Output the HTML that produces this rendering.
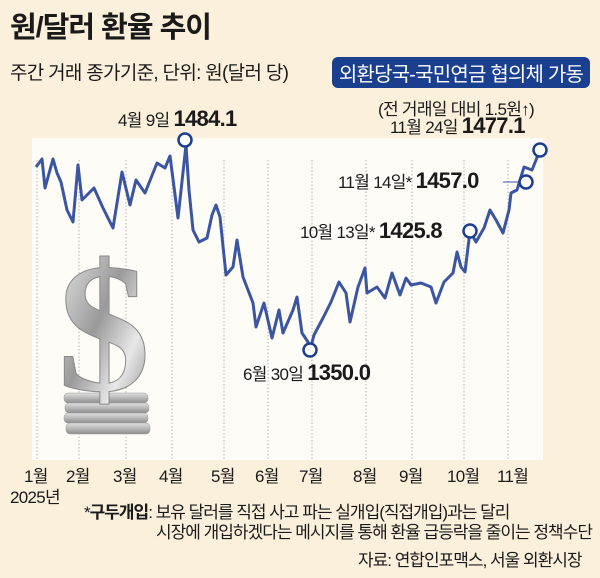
<!DOCTYPE html>
<html><head><meta charset="utf-8"><style>
body{margin:0;width:600px;height:578px;background:#fbf0dc;font-family:"Liberation Sans","Noto Sans CJK KR",sans-serif;position:relative;overflow:hidden;color:#1a1a1a}
.a{position:absolute;white-space:nowrap}
</style></head><body>
<svg class="a" style="left:0;top:0" width="600" height="578">
<defs>
<linearGradient id="g" x1="0" y1="0" x2="1" y2="1"><stop offset="0" stop-color="#f4f4f4"/><stop offset=".45" stop-color="#9a9a9a"/><stop offset=".7" stop-color="#e8e8e8"/><stop offset="1" stop-color="#7a7a7a"/></linearGradient>
<linearGradient id="c" x1="0" y1="0" x2="0" y2="1"><stop offset="0" stop-color="#e0e0e0"/><stop offset="1" stop-color="#8e8e8e"/></linearGradient>
</defs>
<rect x="32" y="138" width="511" height="322" fill="#fefcf7"/>
<g stroke="#b5b5b5" stroke-dasharray="1.5,2" stroke-width="1">
<line x1="37" y1="160" x2="37" y2="460"/><line x1="79" y1="160" x2="79" y2="460"/><line x1="126" y1="160" x2="126" y2="460"/><line x1="172" y1="160" x2="172" y2="460"/><line x1="224" y1="160" x2="224" y2="460"/><line x1="268" y1="160" x2="268" y2="460"/><line x1="312" y1="160" x2="312" y2="460"/><line x1="366" y1="160" x2="366" y2="460"/><line x1="412" y1="160" x2="412" y2="460"/><line x1="464" y1="160" x2="464" y2="460"/><line x1="508" y1="160" x2="508" y2="460"/>
</g>
<g fill="url(#c)" stroke="#999" stroke-width=".5">
<rect x="64" y="393" width="84" height="10" rx="4"/><rect x="65" y="403" width="84" height="10" rx="4"/><rect x="64" y="413" width="84" height="10" rx="4"/><rect x="66" y="423" width="84" height="11" rx="4"/>
</g>
<text x="104" y="390" font-family="Liberation Serif,serif" font-weight="bold" font-size="185" text-anchor="middle" fill="url(#g)" stroke="#888" stroke-width="1">$</text>
<polyline fill="none" stroke="#3b55a3" stroke-width="3" stroke-linejoin="round" points="36,167 42,159 45,188 53,159 57,173 61,182 67,210 73,222 78,165 82,200 94,188 103,208 113,228 122,172 130,205 136,180 145,193 157,163 165,168 170,156 178,218 186,145 189,190 193,230 199,242 207,238 212,215 216,205 220,217 226,275 233,267 237,240 243,277 253,303 256,327 264,303 272,338 279,310 283,333 293,310 297,297 302,333 308,342 310,350 314,335 323,318 331,302 339,282 346,293 350,322 358,287 365,268 367,293 377,287 385,298 392,273 400,295 406,278 411,285 421,283 431,287 436,303 444,282 453,273 457,252 461,267 465,272 470,231 476,242 484,228 490,210 496,220 503,233 509,210 511,193 517,190 524,167 532,170 540,150"/>
<line x1="503" y1="182" x2="520" y2="182" stroke="#3b55a3" stroke-width="1"/>
<g fill="#fff" stroke="#1e3f8e" stroke-width="2.5">
<circle cx="185" cy="140" r="6.5"/><circle cx="310" cy="350" r="6.5"/><circle cx="470" cy="231" r="6.5"/><circle cx="526" cy="182" r="6.5"/><circle cx="540" cy="150" r="6.5"/>
</g>
<rect x="332" y="57" width="258" height="31" rx="6" fill="#1b3f8f"/>
</svg>
<div class="a" style="left:10px;top:4px;font-size:29px;font-weight:bold;letter-spacing:-1px">원/달러 환율 추이</div>
<div class="a" style="left:10px;top:58px;font-size:19px;letter-spacing:-0.7px">주간 거래 종가기준, 단위: 원(달러 당)</div>
<div class="a" style="left:332px;top:58px;width:258px;text-align:center;color:#fff;font-size:20px;letter-spacing:-0.8px">외환당국-국민연금 협의체 가동</div>
<div class="a" style="left:378px;top:95px;font-size:17px;letter-spacing:-0.7px">(전 거래일 대비 1.5원↑)</div>
<div class="a" style="left:390px;top:113px;font-size:17px;letter-spacing:-0.7px">11월 24일 <b style="font-size:22px">1477.1</b></div>
<div class="a" style="left:118px;top:106px;font-size:17px;letter-spacing:-0.7px">4월 9일 <b style="font-size:22px">1484.1</b></div>
<div class="a" style="left:338px;top:168px;font-size:17px;letter-spacing:-0.7px">11월 14일* <b style="font-size:22px">1457.0</b></div>
<div class="a" style="left:300px;top:218px;font-size:17px;letter-spacing:-0.7px">10월 13일* <b style="font-size:22px">1425.8</b></div>
<div class="a" style="left:243px;top:360px;font-size:17px;letter-spacing:-0.7px">6월 30일 <b style="font-size:22px">1350.0</b></div>
<div class="a" style="top:462px;left:0;font-size:17px;letter-spacing:-0.7px">
<span class="a" style="left:24px">1월</span><span class="a" style="left:66px">2월</span><span class="a" style="left:113px">3월</span><span class="a" style="left:159px">4월</span><span class="a" style="left:211px">5월</span><span class="a" style="left:255px">6월</span><span class="a" style="left:299px">7월</span><span class="a" style="left:353px">8월</span><span class="a" style="left:399px">9월</span><span class="a" style="left:447px">10월</span><span class="a" style="left:497px">11월</span>
</div>
<div class="a" style="left:10px;top:483px;font-size:17px;letter-spacing:-0.7px">2025년</div>
<div class="a" style="left:84px;top:498px;font-size:17px;letter-spacing:-1px">*<b>구두개입</b>: 보유 달러를 직접 사고 파는 실개입(직접개입)과는 달리</div>
<div class="a" style="left:156px;top:518px;font-size:17px;letter-spacing:-1px">시장에 개입하겠다는 메시지를 통해 환율 급등락을 줄이는 정책수단</div>
<div class="a" style="left:358px;top:546px;font-size:17px;letter-spacing:-1px">자료: 연합인포맥스, 서울 외환시장</div>
</body></html>
